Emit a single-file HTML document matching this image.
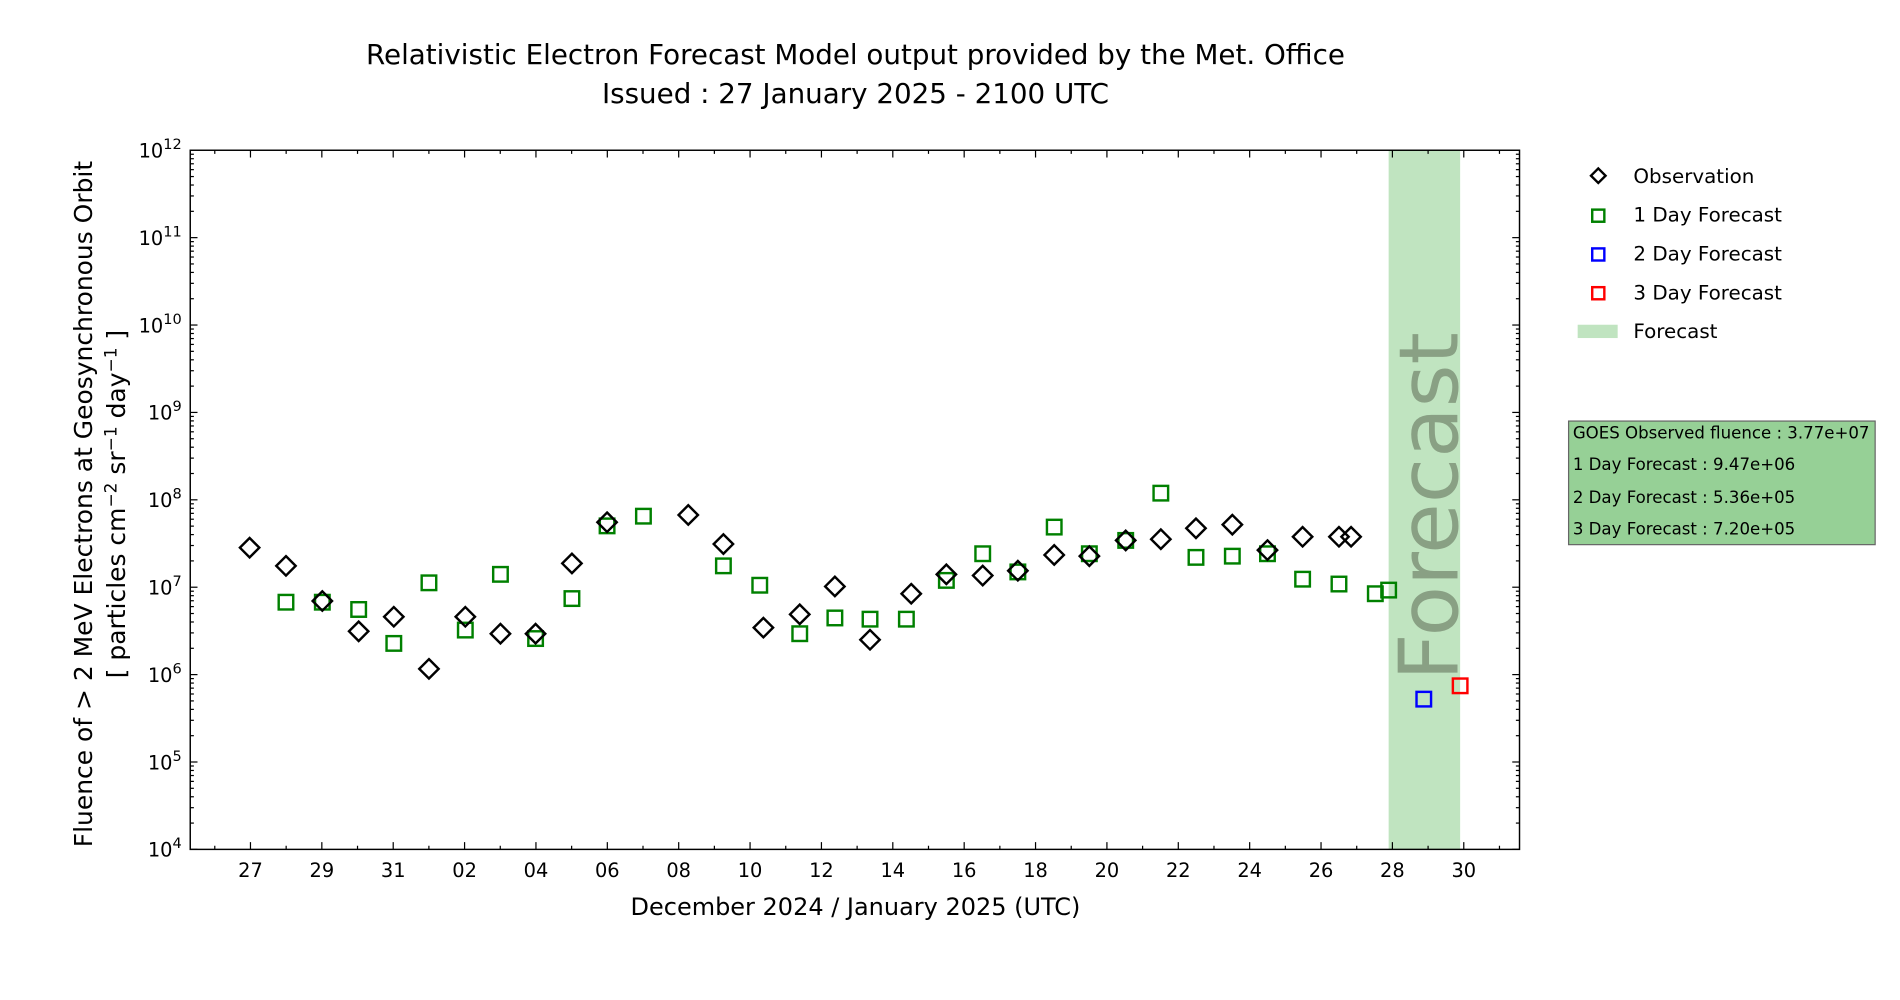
<!DOCTYPE html>
<html><head><meta charset="utf-8"><style>
html,body{margin:0;padding:0;background:#fff;}
svg{display:block;font-family:"DejaVu Sans","Liberation Sans",sans-serif;}
</style></head><body>
<svg width="1900" height="1000" viewBox="0 0 1568 825.3" preserveAspectRatio="none" xmlns="http://www.w3.org/2000/svg">
<rect x="0" y="0" width="1568" height="825.3" fill="#fff"/>
<text x="706" y="53" font-size="22.9" text-anchor="middle">Relativistic Electron Forecast Model output provided by the Met. Office</text>
<text x="706" y="85" font-size="22.9" text-anchor="middle">Issued : 27 January 2025 - 2100 UTC</text>
<rect x="1146" y="124" width="59" height="577" fill="#c0e4c0"/>
<text transform="translate(1203,418) rotate(-90)" font-size="68" fill="#7a8f74" fill-opacity="0.8" text-anchor="middle">Forecast</text>
<g id="ticks" stroke="#000" stroke-width="1"></g>
<rect x="157" y="124" width="1097" height="577" fill="none" stroke="#000" stroke-width="1.2"/>
<g id="ylab" font-size="16" text-anchor="end"></g>
<g id="xlab" font-size="16" text-anchor="middle"></g>
<g id="pts" fill="none" stroke-width="2"></g>
<text x="706" y="755" font-size="19.8" text-anchor="middle">December 2024 / January 2025 (UTC)</text>
<text transform="translate(76,416) rotate(-90)" font-size="20.6" text-anchor="middle">Fluence of &gt; 2 MeV Electrons at Geosynchronous Orbit</text>
<text transform="translate(103,416) rotate(-90)" font-size="20.6" text-anchor="middle">[ particles cm<tspan dy="-7" font-size="14">−2</tspan><tspan dy="7"> sr</tspan><tspan dy="-7" font-size="14">−1</tspan><tspan dy="7"> day</tspan><tspan dy="-7" font-size="14">−1</tspan><tspan dy="7"> ]</tspan></text>
<g font-size="16.4">
<path d="M1319,139 l6,6 l-6,6 l-6,-6 z" fill="none" stroke="#000" stroke-width="2"/>
<text x="1348" y="151">Observation</text>
<rect x="1314" y="173" width="10" height="10" fill="none" stroke="#008000" stroke-width="2"/>
<text x="1348" y="183">1 Day Forecast</text>
<rect x="1314" y="205" width="10" height="10" fill="none" stroke="#0000ff" stroke-width="2"/>
<text x="1348" y="215">2 Day Forecast</text>
<rect x="1314" y="237" width="10" height="10" fill="none" stroke="#ff0000" stroke-width="2"/>
<text x="1348" y="247">3 Day Forecast</text>
<rect x="1302" y="268" width="33" height="11" fill="#c0e4c0"/>
<text x="1348" y="279">Forecast</text>
</g>
<rect x="1294.5" y="347.5" width="253" height="102" fill="#96d096" stroke="#666" stroke-width="1"/>
<g font-size="13.7">
<text x="1298" y="362">GOES Observed fluence : 3.77e+07</text>
<text x="1298" y="388">1 Day Forecast : 9.47e+06</text>
<text x="1298" y="415">2 Day Forecast : 5.36e+05</text>
<text x="1298" y="441">3 Day Forecast : 7.20e+05</text>
</g>
</svg>
<script>
var NS="http://www.w3.org/2000/svg";
function el(p,t,a,txt){var e=document.createElementNS(NS,t);for(var k in a)e.setAttribute(k,a[k]);if(txt!=null)e.textContent=txt;p.appendChild(e);return e;}
var tk=document.getElementById('ticks'),yl=document.getElementById('ylab'),xl=document.getElementById('xlab'),pts=document.getElementById('pts');
var L=157,R=1254,T=124,B=701,dec=(B-T)/8;
for(var d=0;d<8;d++){
  var y0=B-d*dec;
  for(var m=1;m<10;m++){
    var y=y0-Math.log10(m)*dec;var len=m==1?6:3;
    el(tk,'line',{x1:L,y1:y,x2:L+len,y2:y});el(tk,'line',{x1:R,y1:y,x2:R-len,y2:y});
  }
}
for(var d=0;d<=8;d++){
  var y=B-d*dec;var t=el(yl,'text',{x:150,y:y+6});
  var a=document.createElementNS(NS,'tspan');a.textContent='10';t.appendChild(a);
  var b=document.createElementNS(NS,'tspan');b.setAttribute('dy','-7');b.setAttribute('font-size','12');b.textContent=String(4+d);t.appendChild(b);
}
var x27=206.7,pd=(1208-206.7)/34;
var labs=['27','29','31','02','04','06','08','10','12','14','16','18','20','22','24','26','28','30'];
for(var i=-1;i<=38;i++){var x=x27+i*pd;if(x<=L||x>=R)continue;var maj=(i%2==0&&i>=0&&i<=34);
  el(tk,'line',{x1:x,y1:B,x2:x,y2:B-(maj?6:3)});el(tk,'line',{x1:x,y1:T,x2:x,y2:T+(maj?6:3)});
  if(maj)el(xl,'text',{x:x,y:B+23},labs[i/2]);}
var obs=[[206,452],[236,467],[266,496],[296,521],[325,509],[354,552],[384,509],[413,523],[442,523],[472,465],[501,431],[568,425],[597,449],[630,518],[660,507],[689,484],[718,528],[752,490],[781,474],[811,475],[840,471],[870,458],[899,459],[929,446],[958,445],[987,436],[1017,433],[1046,454],[1075,443],[1105,443],[1115,443]];
var f1=[[236,497],[266,497],[296,503],[325,531],[354,481],[384,520],[413,474],[442,527],[472,494],[501,434],[531,426],[597,467],[627,483],[660,523],[689,510],[718,511],[748,511],[781,479],[811,457],[840,472],[870,435],[899,457],[929,446],[958,407],[987,460],[1017,459],[1046,457],[1075,478],[1105,482],[1135,490],[1146,487]];
f1.forEach(function(p){el(pts,'rect',{x:p[0]-6,y:p[1]-6,width:12,height:12,stroke:'#008000'});});
el(pts,'rect',{x:1169,y:571,width:12,height:12,stroke:'#0000ff'});
el(pts,'rect',{x:1199,y:560,width:12,height:12,stroke:'#ff0000'});
obs.forEach(function(p){el(pts,'path',{d:'M'+p[0]+','+(p[1]-8)+' l8,8 l-8,8 l-8,-8 z',stroke:'#000'});});
</script>
</body></html>
